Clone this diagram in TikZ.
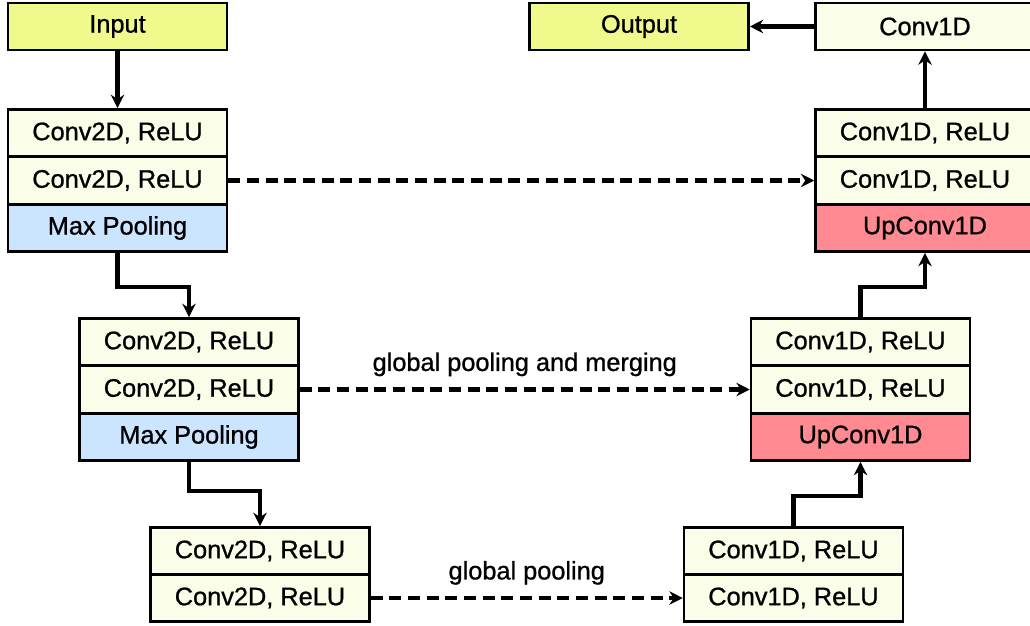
\documentclass[tikz,border=0pt]{standalone}
\usepackage{fontspec}
\setmainfont{Liberation Sans}[BoldFont={Liberation Sans}, BoldFeatures={FakeBold=0.9}]
\usetikzlibrary{arrows.meta}
\definecolor{ioyellow}{RGB}{240,250,140}
\definecolor{convcol}{RGB}{250,253,232}
\definecolor{poolblue}{RGB}{204,229,255}
\definecolor{uppink}{RGB}{255,138,146}
\begin{document}
\begin{tikzpicture}[x=0.75pt, y=-0.75pt,
    every node/.style={font=\fontsize{19}{22}\bfseries},
    layer/.style={draw, line width=1.9pt, fill=convcol, inner sep=0pt,
                  minimum width=164.25pt, minimum height=35.4pt},
    flow/.style={line width=3.3pt, -{Stealth[length=10pt,width=10pt]}},
    skip/.style={flow, dash pattern=on 9pt off 5pt}]
  \useasboundingbox (0,0) rectangle (1030,625);
  % encoder
  \node[layer, fill=ioyellow] (in) at (117.5,26.5) {Input};
  \node[layer] (l1a) at (117.5,133) {Conv2D, ReLU};
  \node[layer] (l1b) at (117.5,180.5) {Conv2D, ReLU};
  \node[layer, fill=poolblue] (l1c) at (117.5,228) {Max Pooling};
  \node[layer] (l2a) at (189,342) {Conv2D, ReLU};
  \node[layer] (l2b) at (189,389.5) {Conv2D, ReLU};
  \node[layer, fill=poolblue] (l2c) at (189,437) {Max Pooling};
  \node[layer] (l3a) at (260,551) {Conv2D, ReLU};
  \node[layer] (l3b) at (260,598) {Conv2D, ReLU};
  % decoder
  \node[layer, fill=ioyellow] (out) at (639,26.5) {Output};
  \node[layer] (last) at (925,26.5) {Conv1D};
  \node[layer] (r1a) at (925,133) {Conv1D, ReLU};
  \node[layer] (r1b) at (925,180.5) {Conv1D, ReLU};
  \node[layer, fill=uppink] (r1c) at (925,228) {UpConv1D};
  \node[layer] (r2a) at (860.5,342) {Conv1D, ReLU};
  \node[layer] (r2b) at (860.5,389.5) {Conv1D, ReLU};
  \node[layer, fill=uppink] (r2c) at (860.5,437) {UpConv1D};
  \node[layer] (r3a) at (793.5,551) {Conv1D, ReLU};
  \node[layer] (r3b) at (793.5,598) {Conv1D, ReLU};
  % arrows
  \draw[flow] (in) -- (l1a);
  \draw[flow] (l1c.south) -- ++(0,34) -| (l2a.north);
  \draw[flow] (l2c.south) -- ++(0,29) -| (l3a.north);
  \draw[flow] (r3a.north) -- ++(0,-30) -| (r2c.south);
  \draw[flow] (r2a.north) -- ++(0,-30) -| (r1c.south);
  \draw[flow] (r1a) -- (last);
  \draw[flow] (last) -- (out);
  \draw[skip] (l1b) -- (r1b);
  \draw[skip] (l2b) -- node[above=5pt] (lblmerge) {global pooling and merging} (r2b);
  \draw[skip] (l3b) -- node[above=5pt] (lblpool) {global pooling} (r3b);
\end{tikzpicture}
\end{document}
